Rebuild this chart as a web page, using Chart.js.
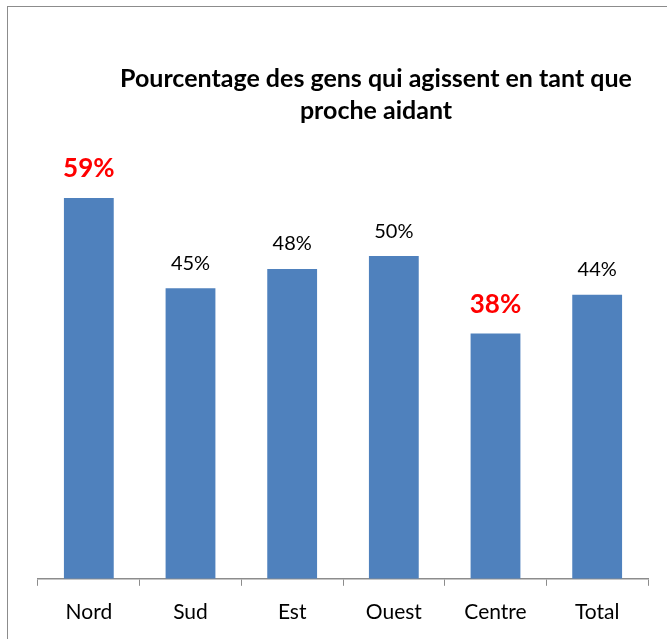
<!DOCTYPE html>
<html lang="fr">
<head>
<meta charset="utf-8">
<title>Proches aidants</title>
<script src="https://cdn.jsdelivr.net/npm/chart.js@4"></script>
<style>
  html, body { margin: 0; padding: 0; background: #fff; overflow: hidden; }
  #cadre { position: absolute; left: 7px; top: 6px; width: 700px; height: 700px; border: 1px solid #8c8c8c; }
  #zone { position: absolute; left: 0; top: 0; width: 667px; height: 639px; }
</style>
</head>
<body>
<div id="cadre"></div>
<div id="zone"><canvas id="monGraphique" width="667" height="639"></canvas></div>
<script>
// Données
const regions = ['Nord', 'Sud', 'Est', 'Ouest', 'Centre', 'Total'];
const pourcentages = [59, 45, 48, 50, 38, 44];
const titreLignes = ['Pourcentage des gens qui agissent en tant que', 'proche aidant'];

const police = 'Lato, "Open Sans", sans-serif';

// Max et min (hors Total) en rouge gras
const valMax = Math.max(...pourcentages.slice(0, 5));
const valMin = Math.min(...pourcentages.slice(0, 5));

const pluginEtiquettes = {
    id: 'etiquettes',
    afterDatasetsDraw(chart) {
        const ctx = chart.ctx;
        const meta = chart.getDatasetMeta(0);
        ctx.save();
        ctx.textAlign = 'center';
        ctx.textBaseline = 'middle';
        meta.data.forEach((barre, i) => {
            const v = pourcentages[i];
            const fort = (v === valMax || v === valMin) && i < 5;
            ctx.fillStyle = fort ? '#ff0000' : '#000000';
            ctx.font = fort ? 'bold 26px ' + police : '20px ' + police;
            ctx.fillText(v + '%', barre.x, barre.y - (fort ? 29 : 25));
        });
        ctx.restore();
    }
};

// Titre décalé vers la droite comme dans l'original
const pluginTitre = {
    id: 'titreDecale',
    afterDraw(chart) {
        const ctx = chart.ctx;
        ctx.save();
        ctx.fillStyle = '#000';
        ctx.font = 'bold 25px ' + police;
        ctx.textAlign = 'center';
        ctx.textBaseline = 'middle';
        ctx.fillText(titreLignes[0], 376, 79);
        ctx.fillText(titreLignes[1], 376, 111);
        ctx.restore();
    }
};

const ctx = document.getElementById('monGraphique').getContext('2d');
new Chart(ctx, {
    type: 'bar',
    data: {
        labels: regions,
        datasets: [{
            data: pourcentages,
            backgroundColor: '#4f81bd',
            borderWidth: 0,
            categoryPercentage: 1,
            barPercentage: 0.49
        }]
    },
    options: {
        responsive: false,
        animation: false,
        layout: { padding: { left: 38, right: 19, top: 127, bottom: 0 } },
        plugins: {
            legend: { display: false },
            title: { display: false },
            tooltip: { enabled: false }
        },
        scales: {
            y: { display: false, min: 0, max: 70 },
            x: {
                grid: { drawOnChartArea: false, drawTicks: true, tickLength: 7, color: '#8c8c8c', offset: true },
                border: { display: true, color: '#8c8c8c', width: 1.5 },
                ticks: { color: '#000', font: { family: police, size: 21 }, padding: 14 }
            }
        }
    },
    plugins: [pluginEtiquettes, pluginTitre]
});
</script>
</body>
</html>
